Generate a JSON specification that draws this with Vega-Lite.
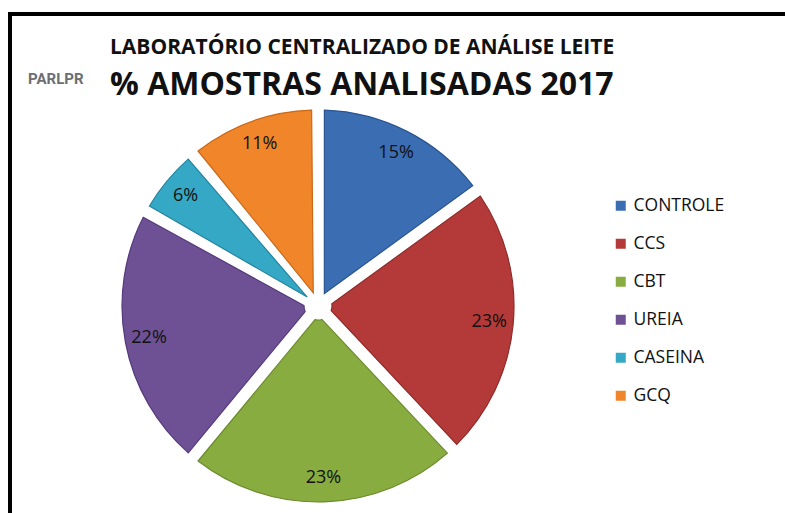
{
  "$schema": "https://vega.github.io/schema/vega-lite/v6.json",
  "autosize": {"type": "pad"},
  "padding": {"left": 8, "top": 12, "right": 0, "bottom": 0},
  "background": "white",
  "data": {
    "values": [
      {"ordem": 1, "categoria": "CONTROLE", "valor": 0.15},
      {"ordem": 2, "categoria": "CCS", "valor": 0.23},
      {"ordem": 3, "categoria": "CBT", "valor": 0.23},
      {"ordem": 4, "categoria": "UREIA", "valor": 0.22},
      {"ordem": 5, "categoria": "CASEINA", "valor": 0.06},
      {"ordem": 6, "categoria": "GCQ", "valor": 0.11}
    ]
  },
  "title": {
    "text": "LABORATÓRIO CENTRALIZADO DE ANÁLISE LEITE",
    "subtitle": "% AMOSTRAS ANALISADAS 2017",
    "anchor": "start",
    "frame": "group",
    "dx": 100,
    "offset": -89,
    "font": "Open Sans",
    "fontSize": 21,
    "fontWeight": "bold",
    "color": "#111111",
    "subtitleFont": "Open Sans",
    "subtitleFontSize": 32,
    "subtitleFontWeight": "bold",
    "subtitleColor": "#111111",
    "subtitlePadding": 12
  },
  "hconcat": [
    {
      "width": 616,
      "height": 584,
      "view": {"stroke": "black", "strokeWidth": 4, "strokeDash": [616, 1200, 584]},
      "title": {
        "text": "PARLPR",
        "anchor": "start",
        "frame": "group",
        "dx": 18,
        "offset": -73,
        "font": "Roboto",
        "fontSize": 15,
        "fontWeight": "bold",
        "color": "#6d6e70"
      },
      "encoding": {
        "theta": {"field": "valor", "type": "quantitative", "stack": true},
        "order": {"field": "ordem", "type": "quantitative"},
        "color": {
          "field": "categoria",
          "type": "nominal",
          "sort": ["CONTROLE", "CCS", "CBT", "UREIA", "CASEINA", "GCQ"],
          "scale": {
            "domain": ["CONTROLE", "CCS", "CBT", "UREIA", "CASEINA", "GCQ"],
            "range": ["#3b6db3", "#b43a39", "#88ac3f", "#6e5194", "#35a8c6", "#f0852a"]
          },
          "legend": {
            "title": null,
            "orient": "none",
            "legendX": 602,
            "legendY": 183,
            "symbolType": "square",
            "symbolSize": 100,
            "symbolStrokeWidth": 0,
            "labelFont": "Open Sans",
            "labelFontSize": 17.5,
            "labelColor": "#111111",
            "labelOffset": 4,
            "rowPadding": 19
          }
        }
      },
      "layer": [
        {
          "mark": {"type": "arc", "outerRadius": 196, "innerRadius": 14, "padAngle": 0.065, "strokeWidth": 1.2},
          "encoding": {
            "stroke": {
              "field": "categoria",
              "type": "nominal",
              "scale": {
                "domain": ["CONTROLE", "CCS", "CBT", "UREIA", "CASEINA", "GCQ"],
                "range": ["#2a5590", "#8e2a2a", "#6a8a2c", "#54397a", "#22849e", "#c8691a"]
              },
              "legend": null
            }
          }
        },
        {
          "mark": {"type": "text", "radius": 172, "font": "Open Sans", "fontSize": 18},
          "encoding": {
            "text": {"field": "valor", "type": "quantitative", "format": ".0%"},
            "fill": {"value": "#111111"}
          }
        }
      ]
    },
    {
      "width": 159,
      "height": 584,
      "view": {"stroke": "black", "strokeWidth": 4, "strokeDash": [159, 5000]},
      "mark": {"type": "text", "opacity": 0},
      "encoding": {}
    }
  ],
  "spacing": 0,
  "bounds": "flush"
}
